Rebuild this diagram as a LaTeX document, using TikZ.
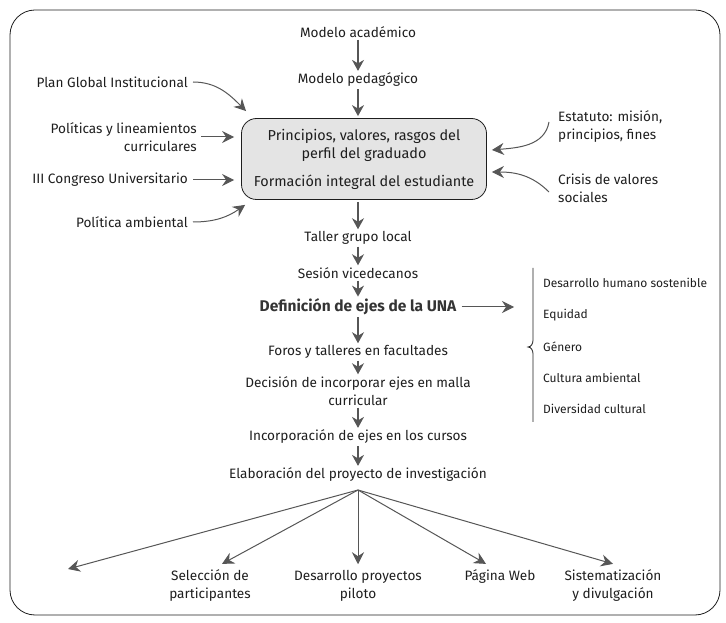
\documentclass[tikz,border=0pt]{standalone}
\usepackage{fontspec}
\setmainfont{Fira Sans}
\usetikzlibrary{arrows.meta,positioning}
\definecolor{flechagris}{HTML}{565656}
\definecolor{cajagris}{HTML}{E4E4E4}
\definecolor{tinta}{HTML}{1E1E1E}
\tikzset{post/.style={-{Stealth[length=11pt,width=12pt,inset=3.5pt]}, draw=flechagris, line width=1.2pt, shorten <=2pt, shorten >=2pt},
         arc/.style={-{Stealth[length=12pt,width=12pt,inset=4pt]}, draw=flechagris, line width=1pt},
         lbl/.style={font=\fontsize{13.6}{18}\selectfont, text=tinta, inner sep=0pt, align=center},
         eje/.style={font=\fontsize{12}{14}\selectfont, text=tinta, inner sep=0pt, anchor=west}
}

\begin{document}
\begin{tikzpicture}[x=1pt,y=1pt]
   \useasboundingbox (0,0) rectangle (726,622);
   \draw[rounded corners=25pt, line width=0.8pt, tinta] (10,7) rectangle (720,612);
   % columna central
   \node[lbl] (acad) at (358,590) {Modelo académico};
   \node[lbl] (ped) at (358,542) {Modelo pedagógico};
   \node[lbl, font=\fontsize{14.4}{18}\selectfont, draw=tinta, fill=cajagris, rounded corners=15pt, line width=0.8pt,
         minimum width=245pt, minimum height=81pt] (perfil) at (364,463)
         {Principios, valores, rasgos del\\perfil del graduado\\[10pt]Formación integral del estudiante};
   \node[lbl] (taller) at (358,384) {Taller grupo local};
   \node[lbl] (sesion) at (358,349) {Sesión vicedecanos};
   \node[lbl, font=\fontsize{15.5}{18}\selectfont\bfseries, text=flechagris!60!black] (ejes) at (358,315) {Definición de ejes de la UNA};
   \node[lbl] (foros) at (358,270) {Foros y talleres en facultades};
   \node[lbl] (malla) at (358,231) {Decisión de incorporar ejes en malla\\curricular};
   \node[lbl] (cursos) at (358,185) {Incorporación de ejes en los cursos};
   \node[lbl] (proyecto) at (358,147) {Elaboración del proyecto de investigación};
   \draw[post] (acad) -- (ped);
   \draw[post] (ped.south) -- (ped.south |- perfil.north);
   \draw[post] (taller.north |- perfil.south) -- (taller.north);
   \draw[post] (taller) -- (sesion);
   \draw[post] (sesion) -- (ejes);
   \draw[post] (ejes) -- (foros);
   \draw[post] (foros) -- (malla);
   \draw[post] (malla) -- (cursos);
   \draw[post] (cursos) -- (proyecto);
   % entradas
   \node[lbl, anchor=east] (plan) at (188,540) {Plan Global Institucional};
   \node[lbl, anchor=east, align=right] (politicas) at (197,485) {Políticas y lineamientos\\curriculares};
   \node[lbl, anchor=east] (congreso) at (188,442) {III Congreso Universitario};
   \node[lbl, anchor=east] (ambiental) at (188,400) {Política ambiental};
   \node[lbl, anchor=west, align=left] (estatuto) at (558,495) {Estatuto: misión,\\principios, fines};
   \node[lbl, anchor=west, align=left] (crisis) at (558,434) {Crisis de valores\\sociales};
   \draw[arc] ([xshift=5pt]plan.east) to[out=0, in=135] ([shift={(5,7)}]perfil.north west);
   \draw[arc, shorten <=4pt, shorten >=7pt] (politicas.east) -- (politicas.east -| perfil.west);
   \draw[arc, shorten <=5pt, shorten >=7pt] (congreso.east) -- (congreso.east -| perfil.west);
   \draw[arc] ([xshift=5pt]ambiental.east) to[out=0, in=-145] ([shift={(4,-5)}]perfil.south west);
   \draw[arc] ([shift={(-9,5)}]estatuto.west) to[out=-100, in=5] ([shift={(5,9)}]perfil.east);
   \draw[arc] ([shift={(-9,-4)}]crisis.west) to[out=135, in=0] ([shift={(5,-13)}]perfil.east);
   % ejes
   \coordinate (llave) at (514,315);
   \draw[arc] ([xshift=5pt]ejes.east) -- (llave);
   \draw[line width=0.8pt, tinta] (533,354) -- (533,282) to[out=-90, in=0] (528,275)
        to[out=0, in=90] (533,268) -- (533,200);
   \node[eje] (desarrollo) at (543,339) {Desarrollo humano sostenible};
   \node[eje] (equidad) at (543,307) {Equidad};
   \node[eje] (genero) at (543,275) {Género};
   \node[eje] (cultura) at (543,244) {Cultura ambiental};
   \node[eje] (diversidad) at (543,213) {Diversidad cultural};
   % abanico final
   \coordinate (fan) at (358,132);
   \coordinate (izq) at (68,53);
   \node[lbl] (sel) at (210,36) {Selección de\\participantes};
   \node[lbl] (des) at (358,36) {Desarrollo proyectos\\piloto};
   \node[lbl] (pag) at (500,45) {Página Web};
   \node[lbl] (sis) at (613,36) {Sistematización\\y divulgación};
   \draw[arc] (fan) -- (izq);
   \draw[arc] (fan) -- ([xshift=12pt,yshift=6pt]sel.north);
   \draw[arc] (fan) -- ([yshift=6pt]des.north);
   \draw[arc] (fan) -- ([xshift=-14pt,yshift=6pt]pag.north);
   \draw[arc] (fan) -- ([yshift=6pt]sis.north);
\end{tikzpicture}
\end{document}
